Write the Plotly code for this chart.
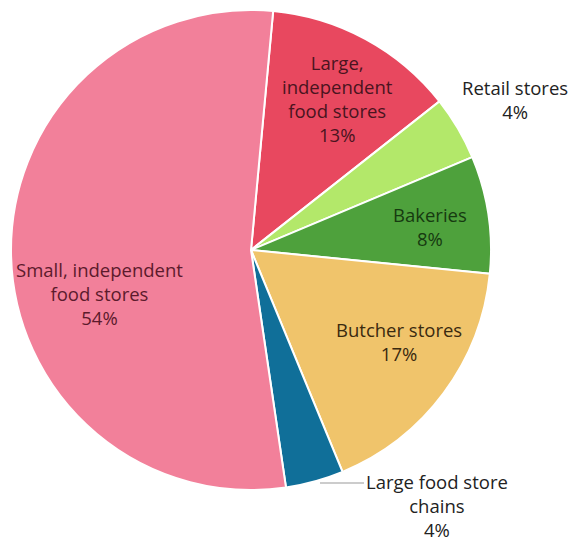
import plotly.graph_objects as go

categories = ["Large, independent food stores", "Retail stores", "Bakeries",
              "Butcher stores", "Large food store chains", "Small, independent food stores"]
values = [12.9, 4.3, 7.9, 17.2, 3.9, 53.8]
pct_labels = ["13%", "4%", "8%", "17%", "4%", "54%"]
label_lines = ["Large,<br>independent<br>food stores", "Retail stores", "Bakeries",
               "Butcher stores", "Large food store<br>chains", "Small, independent<br>food stores"]
colors = ["#E8485F", "#B3E86A", "#4EA13C", "#F0C46B", "#106F99", "#F2809A"]
text_colors = ["#4a1420", "#222222", "#163a10", "#3a2a10", "#222222", "#5c1a2c"]

W, H = 571, 543
fig = go.Figure(go.Pie(
    labels=categories, values=values, sort=False, direction="clockwise",
    rotation=5.3, textinfo="none", hoverinfo="label+percent",
    marker=dict(colors=colors, line=dict(color="white", width=2)),
    domain=dict(x=[11 / W, 491 / W], y=[53 / H, 533 / H]),
    showlegend=False,
))

# label anchor positions in pixels (centre of text block)
label_pos = [(337, 99), (515, 100), (430, 227), (399, 342), (437, 505), (99, 293)]
for i, (px, py) in enumerate(label_pos):
    fig.add_annotation(
        x=px / W, y=1 - py / H, xref="paper", yref="paper",
        text=label_lines[i] + "<br>" + pct_labels[i], showarrow=False,
        align="center", xanchor="center", yanchor="middle",
        font=dict(family="Open Sans", size=18.5, color=text_colors[i]),
    )

# leader line for the small outside slice
fig.add_shape(type="line", xref="paper", yref="paper",
              x0=320 / W, x1=364 / W, y0=1 - 483 / H, y1=1 - 483 / H,
              line=dict(color="#999999", width=1))

fig.update_layout(width=W, height=H, margin=dict(l=0, r=0, t=0, b=0),
                  paper_bgcolor="white", plot_bgcolor="white")
fig.write_html("out.html")
